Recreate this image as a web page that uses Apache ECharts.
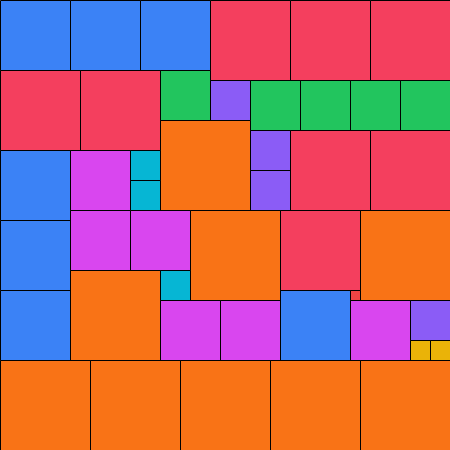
<!DOCTYPE html>
<html>
<head>
<meta charset="utf-8">
<script src="https://cdn.jsdelivr.net/npm/echarts@6/dist/echarts.min.js"></script>
<style>
  html, body { margin: 0; padding: 0; background: #fff; }
  #chart { width: 450px; height: 450px; }
</style>
</head>
<body>
<div id="chart"></div>
<script>
// square packing: left, top, side length, fill colour
const lefts = [0, 70, 140, 210, 290, 370, 0, 80, 160, 210, 250, 300, 350, 400, 160, 250, 250, 290, 370, 0, 70, 130, 130, 0, 0, 70, 130, 190, 280, 360, 70, 160, 160, 220, 280, 350, 350, 410, 410, 430, 0, 90, 180, 270, 360];
const tops = [0, 0, 0, 0, 0, 0, 70, 70, 70, 80, 80, 80, 80, 80, 120, 130, 170, 130, 130, 150, 150, 150, 180, 220, 290, 210, 210, 210, 210, 210, 270, 270, 300, 300, 290, 290, 300, 300, 340, 340, 360, 360, 360, 360, 360];
const sides = [70, 70, 70, 80, 80, 80, 80, 80, 50, 40, 50, 50, 50, 50, 90, 40, 40, 80, 80, 70, 60, 30, 30, 70, 70, 60, 60, 90, 80, 90, 90, 30, 60, 60, 70, 10, 60, 40, 20, 20, 90, 90, 90, 90, 90];
const fills = [
  "#3b82f6", "#3b82f6", "#3b82f6", "#f43f5e", "#f43f5e", "#f43f5e",
  "#f43f5e", "#f43f5e", "#22c55e", "#8b5cf6", "#22c55e", "#22c55e", "#22c55e", "#22c55e",
  "#f97316", "#8b5cf6", "#8b5cf6", "#f43f5e", "#f43f5e",
  "#3b82f6", "#d946ef", "#06b6d4", "#06b6d4", "#3b82f6", "#3b82f6",
  "#d946ef", "#d946ef", "#f97316", "#f43f5e", "#f97316",
  "#f97316", "#06b6d4", "#d946ef", "#d946ef", "#3b82f6", "#ef4444", "#d946ef", "#8b5cf6", "#eab308", "#eab308",
  "#f97316", "#f97316", "#f97316", "#f97316", "#f97316"
];

const data = lefts.map((x, i) => [x, tops[i], sides[i]]);

const chart = echarts.init(document.getElementById("chart"));
chart.setOption({
  animation: false,
  grid: { left: 0, right: 0, top: 0, bottom: 0 },
  xAxis: { type: "value", min: 0, max: 450, show: false },
  yAxis: { type: "value", min: 0, max: 450, inverse: true, show: false },
  series: [
    {
      type: "custom",
      data: data,
      renderItem: function(params, api) {
        const x = api.value(0), y = api.value(1), s = api.value(2);
        const p0 = api.coord([x, y]);
        const p1 = api.coord([x + s, y + s]);
        return {
          type: "rect",
          shape: {
            x: Math.round(p0[0]) + 0.5,
            y: Math.round(p0[1]) + 0.5,
            width: Math.round(p1[0] - p0[0]),
            height: Math.round(p1[1] - p0[1])
          },
          style: { fill: fills[params.dataIndex], stroke: "#000", lineWidth: 1 }
        };
      }
    }
  ]
});
</script>
</body>
</html>
